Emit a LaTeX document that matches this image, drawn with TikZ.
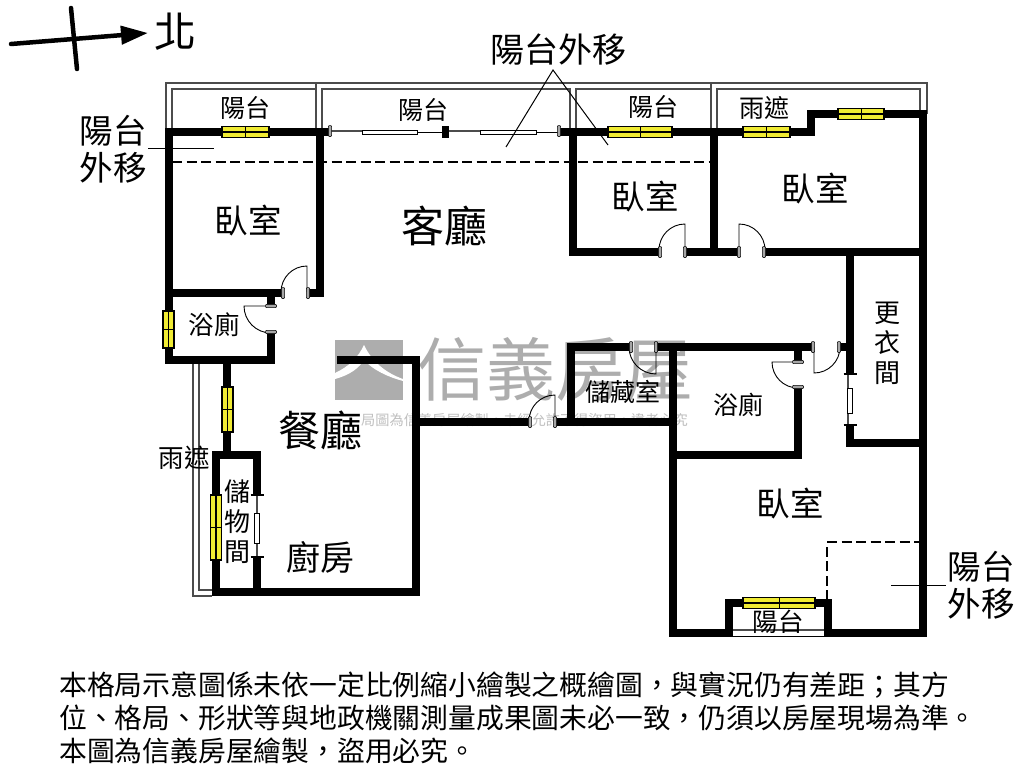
\documentclass[tikz,border=0pt]{standalone}
\usepackage{fontspec}
\usepackage{xcolor}
\usetikzlibrary{arrows.meta}
\setmainfont{Noto Sans CJK TC}
\definecolor{winyellow}{rgb}{0.94,0.92,0.2}
\definecolor{markgray}{rgb}{0.68,0.68,0.68}
\definecolor{railgray}{rgb}{0.3,0.3,0.3}
\tikzset{
	roomtxt/.style={inner sep=0pt,font=\fontsize{#1}{#1}\selectfont},
	wall/.style={line width=7.4pt,line join=miter},
	rail/.style={line width=1.2pt,color=railgray},
	winbox/.style={fill=winyellow,draw=black,line width=1.8pt},
	jamb/.style={fill=gray!70,draw=black,line width=0.5pt},
	pane/.style={fill=white,draw=black,line width=0.7pt},
	leader/.style={line width=1pt,color=black},
	doorline/.style={line width=0.9pt,color=black}
}
\begin{document}
\begin{tikzpicture}[x=1pt,y=-1pt]
	\useasboundingbox (0,0) rectangle (1024,768);
	% watermark
	\fill[markgray] (335,340) rectangle (403,400);
	\fill[white] (364,345) .. controls (358,358) and (348,367) .. (335,373) -- (335,379) .. controls (350,375) and (359,368) .. (364,360) .. controls (373,370) and (388,377) .. (403,381) -- (403,379) .. controls (386,373) and (372,362) .. (364,345);
	\node[roomtxt=69,color=markgray] (markname) at (555,369) {信義房屋};
	\node[roomtxt=14.2,color=gray!50,anchor=west] (marknote) at (361,420) {局圖為信義房屋繪製，未經允許不得盜用，違者必究};
	% north arrow
	\draw[line width=4.5pt,line cap=round,-{Triangle[length=27pt,width=18pt]}] (11,44) -- (148,33);
	\draw[line width=4.5pt,line cap=round] (71,8) -- (77,69);
	\node[roomtxt=42] (north) at (175,32) {北};
	% balcony rails
	\draw[rail] (166,132) -- (166,83) -- (927,83) -- (927,114);
	\draw[rail] (172,132) -- (172,89) -- (316,89);
	\draw[rail] (316,83) -- (316,132);
	\draw[rail] (322,132) -- (322,89) -- (570,89) -- (570,132);
	\draw[rail] (576,132) -- (576,89) -- (711,89);
	\draw[rail] (711,83) -- (711,132);
	\draw[rail] (717,132) -- (717,89) -- (920,89) -- (920,114);
	\draw[rail] (193,363) -- (193,596) -- (212,596);
	\draw[rail] (199,363) -- (199,590) -- (212,590);
	\draw[rail] (732,630) -- (825,630);
	\draw[line width=1pt] (732,636.5) -- (825,636.5);
	% dashed lines
	\draw[line width=1.3pt,dash pattern=on 10pt off 4.5pt] (172,162) -- (714,162);
	\draw[line width=1.3pt,dash pattern=on 10pt off 4.5pt] (827,600) -- (827,542) -- (920,542);
	% walls
	\draw[wall] (330,132) -- (169,132) -- (169,360) -- (271,360) -- (271,332);
	\draw[wall] (271,306) -- (271,290);
	\draw[wall] (169,293) -- (282,293);
	\draw[wall] (308,293) -- (320,293) -- (320,132);
	\draw[wall] (227,360) -- (227,455);
	\draw[wall] (257,495) -- (257,455) -- (216,455) -- (216,592) -- (416,592) -- (416,360) -- (337,360);
	\draw[wall] (257,592) -- (257,557);
	\draw[wall] (416,422) -- (530,422);
	\draw[wall] (555,422) -- (673,422);
	\draw[wall] (571,422) -- (571,347) -- (631,347);
	\draw[wall] (656,347) -- (813,347);
	\draw[wall] (839,347) -- (850,347);
	\draw[wall] (559,132) -- (811,132) -- (811,114) -- (923,114) -- (923,633) -- (828,633) -- (828,603) -- (729,603) -- (729,633) -- (673,633) -- (673,347);
	\draw[wall] (673,455) -- (798,455) -- (798,387);
	\draw[wall] (798,347) -- (798,362);
	\draw[wall] (573,132) -- (573,252) -- (660,252);
	\draw[wall] (685,252) -- (739,252);
	\draw[wall] (764,252) -- (923,252);
	\draw[wall] (714,132) -- (714,252);
	\draw[wall] (850,252) -- (850,374);
	\draw[wall] (850,425) -- (850,443) -- (923,443);
	% windows
	\foreach \xa/\xb/\yy in {222/269/132,608/672/132,743/790/132,838/884/114,743/815/603} {
		\draw[winbox] (\xa,\yy-5.5) rectangle (\xb,\yy+5.5);
		\draw[line width=1.4pt] (\xa,\yy) -- (\xb,\yy);
		\draw[line width=1pt] ({(\xa+\xb)/2},\yy-5.5) -- ({(\xa+\xb)/2},\yy+5.5);
	}
	\foreach \ya/\yb/\xx in {311/348/168.5,387/432/227.5,495/560/216} {
		\draw[winbox] (\xx-5.5,\ya) rectangle (\xx+5.5,\yb);
		\draw[line width=1.4pt] (\xx,\ya) -- (\xx,\yb);
		\draw[line width=1pt] (\xx-5.5,{(\ya+\yb)/2}) -- (\xx+5.5,{(\ya+\yb)/2});
	}
	% sliding doors
	\draw[rail] (330,131) -- (362,131);
	\draw[line width=1pt] (417,132) -- (442,132);
	\draw[rail] (449,131) -- (480,131);
	\draw[line width=1pt] (536,132) -- (559,132);
	\draw[pane] (362,130) rectangle (417,134);
	\draw[pane] (480,130) rectangle (536,134);
	\fill[black] (442,126) rectangle (449,138);
	\draw[rail] (848,374) -- (848,425);
	\draw[pane] (847,388) rectangle (852,413);
	\draw[rail] (257,495) -- (257,557);
	\draw[pane] (254.5,513) rectangle (259.5,543);
	\foreach \xx/\yy in {850/374,850/425,257/495,257/557}
	\draw[line width=1.6pt] (\xx-6.5,\yy) -- (\xx+6.5,\yy);
	% door swings
	\foreach \hx/\hy/\sa/\ea/\rr in {307/292/180/270/26,271/306/90/180/27,685/250/180/270/26,739/250/360/270/26,555/421/180/270/26,656/347/180/90/27,798/362/90/180/26,814/347/0/90/26} {
		\draw[doorline] (\hx,\hy) ++(\sa:\rr) arc (\sa:\ea:\rr) -- (\hx,\hy);
	}
	% door jambs
	\foreach \xx/\yy in {330/131,559/131,283/293,308/293,660/252,685/252,739/252,764/252,530/422,555/422,631/347,656/347,813/347,839/347}
	\filldraw[jamb,rounded corners=0.8pt] (\xx-1.6,\yy-5.5) rectangle (\xx+1.6,\yy+5.5);
	\foreach \xx/\yy in {271/306,271/332,798/362,798/387}
	\filldraw[jamb,rounded corners=0.8pt] (\xx-5.5,\yy-1.6) rectangle (\xx+5.5,\yy+1.6);
	% leader lines
	\coordinate (bayleft) at (148,148);
	\coordinate (bayleftend) at (214,148);
	\draw[leader] (bayleft) -- (bayleftend);
	\coordinate (bayright) at (891,585);
	\coordinate (bayrightend) at (946,585);
	\draw[leader] (bayright) -- (bayrightend);
	\coordinate (baytop) at (553,70);
	\coordinate (baytopa) at (506,147);
	\coordinate (baytopb) at (608,145);
	\draw[leader] (baytopa) -- (baytop) -- (baytopb);
	% room names
	\node[roomtxt=25] (balconya) at (245,108) {陽台};
	\node[roomtxt=25] (balconyb) at (423,110) {陽台};
	\node[roomtxt=25] (balconyc) at (653,107) {陽台};
	\node[roomtxt=25] (awninga) at (764,108) {雨遮};
	\node[roomtxt=33.5] (bedrooma) at (248,221) {臥室};
	\node[roomtxt=43] (living) at (444,226) {客廳};
	\node[roomtxt=33.5] (bedroomb) at (645,197) {臥室};
	\node[roomtxt=33.5] (bedroomc) at (815,189) {臥室};
	\node[roomtxt=25.5] (bathb) at (214,325) {浴廁};
	\node[roomtxt=42] (dining) at (320,430) {餐廳};
	\node[roomtxt=25.5] (awningb) at (184,458) {雨遮};
	\node[roomtxt=34] (kitchen) at (320,557) {廚房};
	\node[roomtxt=25] (storage) at (623,392) {儲藏室};
	\node[roomtxt=25] (bathc) at (738,405) {浴廁};
	\node[roomtxt=33.5] (bedroomd) at (790,504) {臥室};
	\node[roomtxt=25.5] (balconyd) at (778,622) {陽台};
	\node[roomtxt=26,align=center] (closet) at (887,343) {更\\[4pt]衣\\[4pt]間};
	\node[roomtxt=26,align=center] (pantry) at (237,522) {儲\\[4pt]物\\[4pt]間};
	\node[roomtxt=33.5,align=center] (bayouta) at (113,149) {陽台\\[4pt]外移};
	\node[roomtxt=33.5,align=center] (bayoutb) at (981,585) {陽台\\[4pt]外移};
	\node[roomtxt=34] (bayoutc) at (558,50) {陽台外移};
	% notes
	\node[roomtxt=27.8,anchor=west] (notea) at (59,685) {本格局示意圖係未依一定比例縮小繪製之概繪圖，與實況仍有差距；其方};
	\node[roomtxt=27.8,anchor=west] (noteb) at (59,718) {位、格局、形狀等與地政機關測量成果圖未必一致，仍須以房屋現場為準。};
	\node[roomtxt=27.8,anchor=west] (notec) at (59,751) {本圖為信義房屋繪製，盜用必究。};
\end{tikzpicture}
\end{document}
